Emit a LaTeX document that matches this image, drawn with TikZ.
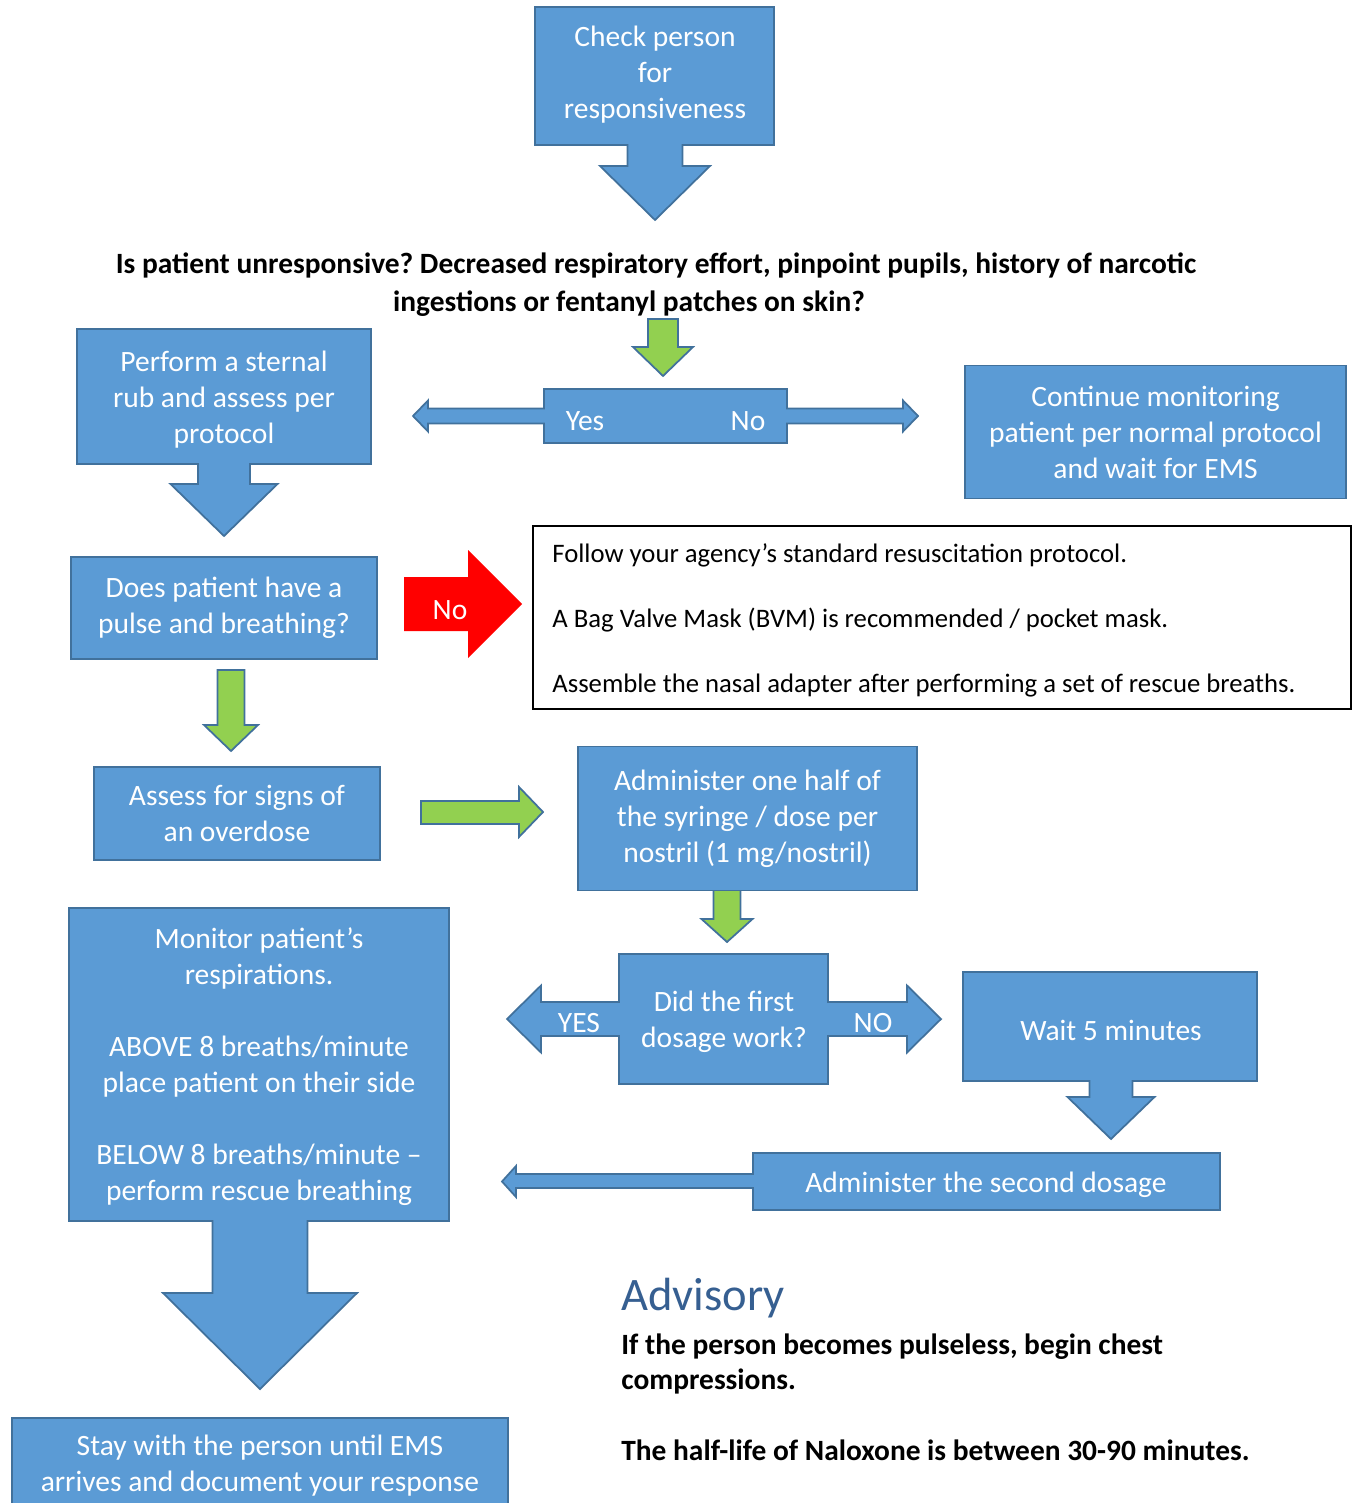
\documentclass[tikz,border=0pt]{standalone}
\usepackage{fontspec}
\setmainfont{Carlito}
\usepackage{xcolor}
\usetikzlibrary{positioning, calc}
\definecolor{boxblue}{RGB}{91,155,213}
\definecolor{edgeblue}{RGB}{65,113,156}
\definecolor{arrowgreen}{RGB}{146,208,80}
\definecolor{headblue}{RGB}{54,95,145}
\frenchspacing
\tikzset{
  boxsize/.style 2 args={minimum width=#1*0.02cm, minimum height=#2*0.02cm},
  bluebox/.style={draw=edgeblue, fill=boxblue, line width=1pt, inner sep=0pt,
    text=white, align=center, font=\fontsize{16.8}{20.5}\selectfont},
  boxtext/.style={inner sep=0pt, text=white, align=center,
    font=\fontsize{16.8}{20.5}\selectfont},
  bluearrow/.style={draw=edgeblue, fill=boxblue, line width=1pt},
  greenarrow/.style={draw=edgeblue, fill=arrowgreen, line width=1pt},
  notebox/.style={draw=black, fill=white, line width=1.1pt, inner sep=0pt},
  notetext/.style={inner sep=0pt, align=left, font=\fontsize{15.2}{18.5}\selectfont},
  boldtext/.style={inner sep=0pt, font=\bfseries\fontsize{16.75}{21.6}\selectfont}
}

\begin{document}
\begin{tikzpicture}[x=0.02cm, y=-0.02cm]
\useasboundingbox (0,0) rectangle (1356,1503);

\foreach \xl/\yt/\xr/\yb/\cx/\sw/\hb/\hw/\tip in {
    535/7/774/145/655/27.5/166/55/220,
    77/329/371/464/224/26/484/53.5/536,
    963/972/1257/1081/1111/21.5/1097/43.5/1139,
    69/908/449/1221/260/47.5/1293/97/1389}
    \draw[bluearrow] (\xl,\yt) -- (\xr,\yt) -- (\xr,\yb) -- (\cx+\sw,\yb)
    -- (\cx+\sw,\hb) -- (\cx+\hw,\hb) -- (\cx,\tip) -- (\cx-\hw,\hb)
    -- (\cx-\sw,\hb) -- (\cx-\sw,\yb) -- (\xl,\yb) -- cycle;

\foreach \xl/\yt/\xr/\yb/\cy/\sw/\lb/\rb/\hw/\ltip/\rtip in {
    544/389/787/443/416/7.5/428/903/15.5/413/918,
    619/954/828/1084/1019/17/541/907/33.5/507/941}
    \draw[bluearrow] (\xl,\yt) -- (\xr,\yt) -- (\xr,\cy-\sw) -- (\rb,\cy-\sw)
    -- (\rb,\cy-\hw) -- (\rtip,\cy) -- (\rb,\cy+\hw) -- (\rb,\cy+\sw)
    -- (\xr,\cy+\sw) -- (\xr,\yb) -- (\xl,\yb) -- (\xl,\cy+\sw) -- (\lb,\cy+\sw)
    -- (\lb,\cy+\hw) -- (\ltip,\cy) -- (\lb,\cy-\hw) -- (\lb,\cy-\sw)
    -- (\xl,\cy-\sw) -- cycle;

\draw[bluearrow] (753,1153) -- (1220,1153) -- (1220,1210) -- (753,1210)
    -- (753,1188) -- (516,1188) -- (516,1197) -- (502,1181.5) -- (516,1166)
    -- (516,1174) -- (753,1174) -- cycle;

\fill[red] (404,577) -- (468,577) -- (468,550) -- (522,604) -- (468,658)
    -- (468,631) -- (404,631) -- cycle;

\draw[greenarrow] (421,801) -- (519,801) -- (519,787) -- (543,812)
    -- (519,837) -- (519,824) -- (421,824) -- cycle;

\node[boldtext, align=center] (question) at (656,285)
    {Is patient unresponsive? Decreased respiratory effort, pinpoint pupils, history of narcotic\\
     ingestions or fentanyl patches on skin?\hspace*{1.08cm}};

\foreach \cx/\ya/\yb/\yc/\sw/\hw in {
    663/319/347/376/15/30, 231/670/725/751/13.5/27, 727/886/919/942/13.5/25.5}
    \draw[greenarrow] (\cx-\sw,\ya) -- (\cx+\sw,\ya) -- (\cx+\sw,\yb)
    -- (\cx+\hw,\yb) -- (\cx,\yc) -- (\cx-\hw,\yb) -- (\cx-\sw,\yb) -- cycle;

\node[boxtext] (check) at (655,75) {Check person\\for\\responsiveness};
\node[boxtext] (sternal) at (224,399.5) {Perform a sternal\\rub and assess per\\protocol};
\node[boxtext] (yes) at (585,421) {Yes};
\node[boxtext] (no) at (748,421) {No};
\node[bluebox, boxsize={381}{133}] (continue) at (1155.5,432)
    {Continue monitoring\\patient per normal protocol\\and wait for EMS};
\node[bluebox, boxsize={306}{102}] (pulse) at (224,608)
    {Does patient have a\\pulse and breathing?};
\node[boxtext] (nopulse) at (450,610) {No};
\node[notebox, boxsize={818}{183}, anchor=north west] (resus) at (532,525) {};
\node[notetext, anchor=west] (resustext) at ($(resus.west)+(20,2.5)$)
    {Follow your agency’s standard resuscitation protocol.\\[18.5pt]
     A Bag Valve Mask (BVM) is recommended / pocket mask.\\[18.5pt]
     Assemble the nasal adapter after performing a set of rescue breaths.};
\node[bluebox, boxsize={286}{93}] (assess) at (237,813.5) {Assess for signs of\\an overdose};
\node[bluebox, boxsize={339}{144}] (half) at (747.5,818.5)
    {Administer one half of\\the syringe / dose per\\nostril (1 mg/nostril)};
\node[boxtext] (worked) at (724,1022) {Did the first\\dosage work?};
\node[boxtext] (yesdose) at (579,1023) {YES};
\node[boxtext] (nodose) at (873,1023) {NO};
\node[boxtext] (wait) at (1111,1030) {Wait 5 minutes};
\node[boxtext] (second) at (986,1185) {Administer the second dosage};
\node[boxtext] (monitor) at (259,1067)
    {Monitor patient’s\\respirations.\\[20.5pt]
     ABOVE 8 breaths/minute\\place patient on their side\\[20.5pt]
     BELOW 8 breaths/minute –\\perform rescue breathing};
\node[bluebox, boxsize={496}{96}] (stay) at (260,1466)
    {Stay with the person until EMS\\arrives and document your response};

\node[inner sep=0pt, anchor=west, text=headblue, font=\fontsize{26.5}{31}\selectfont]
    (advisory) at (621,1298) {Advisory};
\node[boldtext, align=left, anchor=north west, font=\bfseries\fontsize{16.75}{20.2}\selectfont]
    (advice) at (621,1333)
    {If the person becomes pulseless, begin chest\\compressions.\\[20.2pt]
     The half-life of Naloxone is between 30-90 minutes.};

\end{tikzpicture}
\end{document}
